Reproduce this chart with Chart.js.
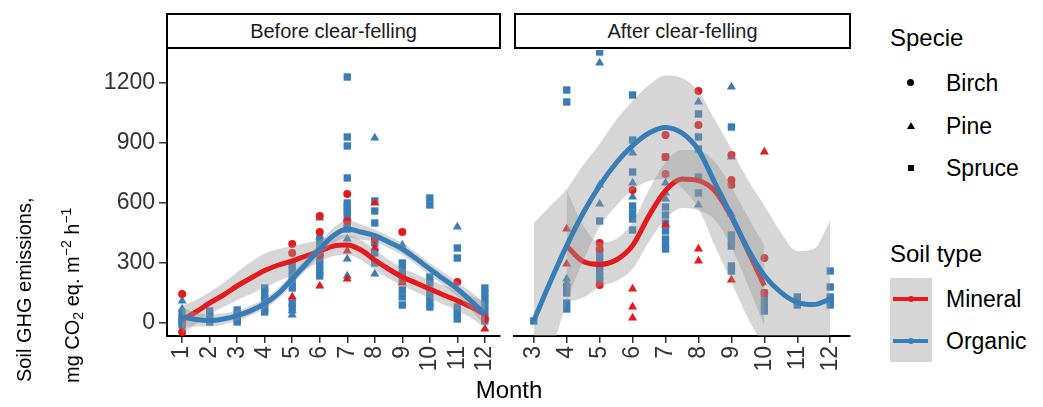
<!DOCTYPE html>
<html>
<head>
<meta charset="utf-8">
<script src="https://cdn.jsdelivr.net/npm/chart.js@4.4.1/dist/chart.umd.min.js"></script>
<style>
  body { margin: 0; width: 1043px; height: 407px; background: #fff; position: relative; overflow: hidden;
         font-family: "Liberation Sans", Arial, sans-serif; }
  canvas { position: absolute; top: 0; }
  .t { position: absolute; white-space: nowrap; color: #000; }
  .strip { position: absolute; top: 13px; height: 36px; box-sizing: border-box; border: 2px solid #000;
           background: #fff; font-size: 20px; line-height: 32px; text-align: center; color: #1a1a1a; }
  .ytitle { position: absolute; white-space: nowrap; font-size: 20px; line-height: 24px; height: 24px;
            transform-origin: 0 0; transform: rotate(-90deg); color: #000; }
  sub { font-size: 0.7em; vertical-align: -0.3em; line-height: 0; }
  sup { font-size: 0.7em; vertical-align: 0.6em; line-height: 0; }
  .lg { position: absolute; white-space: nowrap; font-size: 23px; line-height: 24px; color: #000; }
  .lgt { position: absolute; white-space: nowrap; font-size: 24px; line-height: 24px; color: #000; }
  .sym { position: absolute; background: #000; }
</style>
</head>
<body>
<canvas id="before" width="510" height="407" style="left:0"></canvas>
<canvas id="after" width="355" height="407" style="left:505px"></canvas>

<div class="strip" style="left:166px;width:335px">Before clear-felling</div>
<div class="strip" style="left:514px;width:337px">After clear-felling</div>

<div class="ytitle" style="left:12px;top:382px">Soil GHG emissions,</div>
<div class="ytitle" style="left:60px;top:383px">mg CO<sub>2</sub> eq. m<sup>−2</sup> h<sup>−1</sup></div>
<div class="t" style="left:409px;width:200px;top:378px;font-size:24px;line-height:24px;text-align:center">Month</div>

<div class="lgt" style="left:890px;top:26px">Specie</div>
<div class="sym" style="left:907px;top:79px;width:7px;height:7px;border-radius:50%"></div>
<div class="lg" style="left:946px;top:71px">Birch</div>
<div style="position:absolute;left:907px;top:122px;width:0;height:0;border-left:4px solid transparent;border-right:4px solid transparent;border-bottom:7px solid #000"></div>
<div class="lg" style="left:946px;top:114px">Pine</div>
<div class="sym" style="left:908px;top:165px;width:6px;height:6px"></div>
<div class="lg" style="left:946px;top:156px">Spruce</div>

<div class="lgt" style="left:890px;top:242px">Soil type</div>
<div style="position:absolute;left:890px;top:278px;width:42px;height:84px;background:#d6d6d6"></div>
<div style="position:absolute;left:893px;top:297px;width:35px;height:4px;background:#e41a1c"></div>
<div style="position:absolute;left:908px;top:296px;width:6px;height:6px;border-radius:50%;background:#e41a1c"></div>
<div style="position:absolute;left:893px;top:339px;width:35px;height:4px;background:#377eb8"></div>
<div style="position:absolute;left:908px;top:338px;width:6px;height:6px;border-radius:50%;background:#377eb8"></div>
<div class="lg" style="left:946px;top:287px">Mineral</div>
<div class="lg" style="left:946px;top:329px">Organic</div>

<script>
// ---- tick labels ----
const beforeMonths = [1, 2, 3, 4, 5, 6, 7, 8, 9, 10, 11, 12];
const afterMonths = [3, 4, 5, 6, 7, 8, 9, 10, 11, 12];
const yTicks = [0, 300, 600, 900, 1200];

// ---- observations [month, emission] : before clear-felling ----
const beforeMineralBirch = [[1,145],[1,-45],[5,395],[5,350],[6,535],[6,455],[6,340],[7,645],[7,510],[8,420],[9,455],[11,205],[12,20]];
const beforeMineralPine = [[5,130],[6,185],[7,360],[7,220],[8,600],[8,375],[9,200],[12,-30]];
const beforeOrganicPine = [[1,110],[1,70],[5,60],[5,40],[6,525],[6,430],[7,420],[7,320],[7,235],[8,925],[8,245],[9,390],[11,480]];
const beforeOrganicSpruce = [
  [1,45],[1,25],[1,10],[1,0],[1,-10],
  [2,60],[2,40],[2,20],[2,5],
  [3,65],[3,45],[3,30],[3,15],[3,5],
  [4,175],[4,150],[4,125],[4,100],[4,75],[4,55],
  [5,290],[5,260],[5,230],[5,200],[5,175],[5,100],[5,75],
  [6,420],[6,385],[6,350],[6,320],[6,290],[6,260],[6,235],
  [7,1230],[7,930],[7,885],[7,725],[7,600],[7,580],[7,560],[7,540],[7,500],[7,470],
  [8,610],[8,560],[8,500],[8,400],[8,350],[8,300],
  [9,300],[9,270],[9,240],[9,210],[9,165],[9,130],[9,90],
  [10,625],[10,590],[10,230],[10,200],[10,160],[10,130],[10,100],[10,80],
  [11,375],[11,325],[11,80],[11,60],[11,40],[11,20],
  [12,175],[12,150],[12,120],[12,90],[12,60],[12,30],[12,10]
];

// ---- observations : after clear-felling ----
const afterMineralBirch = [[5,400],[5,370],[5,190],[6,665],[7,940],[7,830],[7,745],[8,1160],[8,990],[9,840],[9,715],[9,690],[10,325],[10,150]];
const afterMineralPine = [[4,470],[4,295],[6,170],[6,80],[6,25],[7,490],[8,370],[8,310],[9,215],[10,855]];
const afterOrganicPine = [[4,220],[4,200],[5,1300],[5,690],[5,595],[6,850],[6,700],[6,630],[7,700],[7,650],[7,620],[8,1105],[8,590],[9,1180],[9,830],[9,545]];
const afterOrganicSpruce = [
  [3,10],
  [4,1165],[4,1105],[4,180],[4,150],[4,100],[4,70],
  [5,1355],[5,510],[5,350],[5,320],[5,290],[5,260],[5,230],[5,210],
  [6,1140],[6,915],[6,755],[6,585],[6,550],[6,520],[6,465],
  [7,830],[7,580],[7,540],[7,500],[7,460],[7,420],[7,390],[7,370],
  [8,1045],[8,930],[8,870],[8,730],[8,650],
  [9,980],[9,440],[9,410],[9,385],[9,285],[9,260],
  [10,150],[10,120],[10,90],[10,60],
  [11,130],[11,110],[11,90],
  [12,260],[12,180],[12,130],[12,110],[12,90]
];

// ---- loess fits with confidence band ----
const beforeFitX = [1,1.5,2,2.5,3,3.5,4,4.5,5,5.5,6,6.5,7,7.5,8,8.5,9,9.5,10,10.5,11,11.5,12];
const beforeMineralFit = [15,55,100,140,185,225,262,290,310,335,360,385,390,365,315,270,230,200,170,140,112,80,42];
const beforeMineralHi  = [85,115,155,200,255,305,347,370,385,400,415,435,440,415,365,318,275,245,215,188,162,135,107];
const beforeMineralLo  = [-55,-5,45,80,115,145,177,210,235,270,305,335,340,315,265,222,185,155,125,92,62,25,-23];
const beforeOrganicFit = [30,17,12,20,37,62,97,148,220,295,370,437,470,455,437,405,370,322,270,220,170,110,45];
const beforeOrganicHi  = [80,52,42,48,62,87,122,175,248,325,402,475,512,493,469,435,400,352,300,252,205,155,100];
const beforeOrganicLo  = [-20,-18,-18,-8,12,37,72,121,192,265,338,399,428,417,405,375,340,292,240,188,135,65,-10];

const afterOrganicX   = [3,3.5,4,4.5,5,5.5,6,6.5,7,7.5,8,8.5,9,9.5,10,10.5,11,11.5,12];
const afterOrganicFit = [12,205,387,550,687,800,887,950,978,950,865,700,537,370,237,153,103,92,120];
const afterOrganicHi  = [500,585,670,790,895,1015,1110,1190,1237,1225,1158,1015,870,715,587,453,360,370,512];
const afterOrganicLo  = [-480,-175,105,310,480,585,665,710,720,675,572,385,205,25,-110,-147,-147,-186,-272];
const afterMineralX   = [4,4.5,5,5.5,6,6.5,7,7.5,8,8.5,9,9.5,10];
const afterMineralFit = [385,307,293,315,387,537,662,720,712,660,530,360,187];
const afterMineralHi  = [665,487,403,420,504,667,804,865,862,805,680,530,387];
const afterMineralLo  = [105,127,183,210,270,407,520,575,562,515,380,190,-13];

const RED = '#e41a1c';
const BLUE = '#377eb8';
const BAND = 'rgba(153,153,153,0.4)';
const FONT = { family: '"Liberation Sans", Arial, sans-serif', size: 23 };

function toXY(list) { return list.map(([x, y]) => ({ x, y })); }
function zipXY(xs, ys) { return xs.map((x, i) => ({ x, y: ys[i] })); }

function scatter(list, color, shape, r) {
  return { data: toXY(list), showLine: false, pointStyle: shape, pointRadius: r, pointHoverRadius: r,
           pointBackgroundColor: color, pointBorderWidth: 0, order: 4 };
}

function smoothSets(xs, fit, hi, lo, color, baseIndex, lineOrder) {
  const common = { pointRadius: 0, pointHoverRadius: 0, cubicInterpolationMode: 'monotone' };
  return [
    Object.assign({ data: zipXY(xs, fit), borderColor: color, borderWidth: 5, fill: false, order: lineOrder }, common),
    Object.assign({ data: zipXY(xs, hi), borderColor: 'rgba(0,0,0,0)', borderWidth: 0,
                    backgroundColor: BAND, fill: baseIndex + 2, order: lineOrder + 1 }, common),
    Object.assign({ data: zipXY(xs, lo), borderColor: 'rgba(0,0,0,0)', borderWidth: 0, fill: false, order: lineOrder + 1 }, common)
  ];
}

function makePanel(id, opts) {
  const datasets = [];
  datasets.push(...smoothSets(opts.orgX, opts.orgFit, opts.orgHi, opts.orgLo, BLUE, 0, 0));
  datasets.push(...smoothSets(opts.minX, opts.minFit, opts.minHi, opts.minLo, RED, 3, 2));
  datasets.push(scatter(opts.minBirch, RED, 'circle', 4));
  datasets.push(scatter(opts.minPine, RED, 'triangle', 5.2));
  datasets.push(scatter(opts.orgPine, BLUE, 'triangle', 5.2));
  datasets.push(scatter(opts.orgSpruce, BLUE, 'rect', 5.2));

  new Chart(document.getElementById(id), {
    type: 'line',
    data: { datasets },
    options: {
      responsive: false,
      animation: false,
      events: [],
      layout: { padding: { left: opts.padLeft, right: 10, top: 50, bottom: 0 } },
      plugins: { legend: { display: false }, tooltip: { enabled: false } },
      scales: {
        x: {
          type: 'linear', min: opts.xMin, max: opts.xMax,
          afterBuildTicks: s => { s.ticks = opts.months.map(v => ({ value: v })); },
          afterFit: s => { s.height = 71; s.paddingLeft = 0; s.paddingRight = 0; },
          ticks: { font: FONT, color: '#333', minRotation: 90, maxRotation: 90, autoSkip: false, padding: 3,
                   callback: v => String(v) },
          grid: { drawOnChartArea: false, drawTicks: true, tickLength: 7, color: '#333', lineWidth: 1.5 },
          border: { display: true, color: '#000', width: 2 }
        },
        y: {
          type: 'linear', min: -65, max: 1365, display: opts.showY,
          afterBuildTicks: s => { s.ticks = yTicks.map(v => ({ value: v })); },
          afterFit: s => { s.width = opts.showY ? 167 : 0; s.paddingTop = 0; s.paddingBottom = 0; },
          ticks: { font: FONT, color: '#333', padding: 4, callback: v => String(v) },
          grid: { drawOnChartArea: false, drawTicks: true, tickLength: 8, color: '#333', lineWidth: 1.5 },
          border: { display: true, color: '#000', width: 2 }
        }
      }
    }
  });
}

makePanel('before', {
  months: beforeMonths, xMin: 0.45, xMax: 12.55, showY: true, padLeft: 0,
  orgX: beforeFitX, orgFit: beforeOrganicFit, orgHi: beforeOrganicHi, orgLo: beforeOrganicLo,
  minX: beforeFitX, minFit: beforeMineralFit, minHi: beforeMineralHi, minLo: beforeMineralLo,
  minBirch: beforeMineralBirch, minPine: beforeMineralPine, orgPine: beforeOrganicPine, orgSpruce: beforeOrganicSpruce
});

makePanel('after', {
  months: afterMonths, xMin: 2.4, xMax: 12.6, showY: false, padLeft: 9,
  orgX: afterOrganicX, orgFit: afterOrganicFit, orgHi: afterOrganicHi, orgLo: afterOrganicLo,
  minX: afterMineralX, minFit: afterMineralFit, minHi: afterMineralHi, minLo: afterMineralLo,
  minBirch: afterMineralBirch, minPine: afterMineralPine, orgPine: afterOrganicPine, orgSpruce: afterOrganicSpruce
});
</script>
</body>
</html>
